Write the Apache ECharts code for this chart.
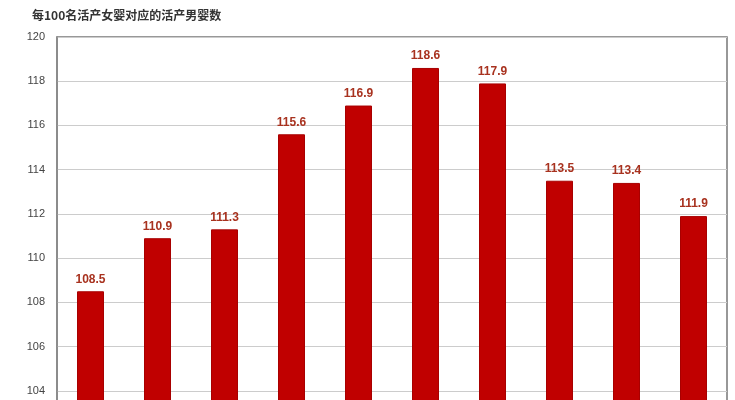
<!DOCTYPE html>
<html><head><meta charset="utf-8">
<script src="https://cdn.jsdelivr.net/npm/echarts@6/dist/echarts.min.js"></script>
<style>html,body{margin:0;padding:0;background:#fff;overflow:hidden;}#c{width:735px;height:400px;}</style>
</head><body><div id="c"></div>
<script>
const titleText = '每100名活产女婴对应的活产男婴数';
const categories = ['1','2','3','4','5','6','7','8','9','10'];
const values = [108.5, 110.9, 111.3, 115.6, 116.9, 118.6, 117.9, 113.5, 113.4, 111.9];
const yTicks = [102,104,106,108,110,112,114,116,118,120];

const chart = echarts.init(document.getElementById('c'));
chart.setOption({
  animation:false,
  title:{text:titleText,left:27,top:4,textStyle:{fontSize:12,fontWeight:'bold',color:'#333',fontFamily:'Noto Sans CJK SC'}},
  grid:{left:57,width:670,top:37,height:398,outerBoundsMode:'none',containLabel:false,show:true,borderColor:'#777',borderWidth:1.5,backgroundColor:'transparent'},
  xAxis:{type:'category',data:categories,axisLine:{show:false},axisTick:{show:false},axisLabel:{show:false}},
  yAxis:{type:'value',min:yTicks[0],max:yTicks[yTicks.length-1],interval:2,
    axisLine:{show:true,lineStyle:{color:'#888',width:1.5}},axisTick:{show:false},
    axisLabel:{color:'#444',fontSize:11,fontFamily:'Liberation Sans',margin:12},
    splitLine:{lineStyle:{color:'#ccc',width:1}}},
  series:[{type:'bar',data:values,barWidth:27,
    itemStyle:{color:'#c00000',borderColor:'#a80000',borderWidth:1},
    label:{show:true,position:'top',distance:6,color:'#a8321f',fontWeight:'bold',fontSize:12,fontFamily:'Liberation Sans',formatter:p=>p.value.toFixed(1)}}]
});
</script></body></html>
